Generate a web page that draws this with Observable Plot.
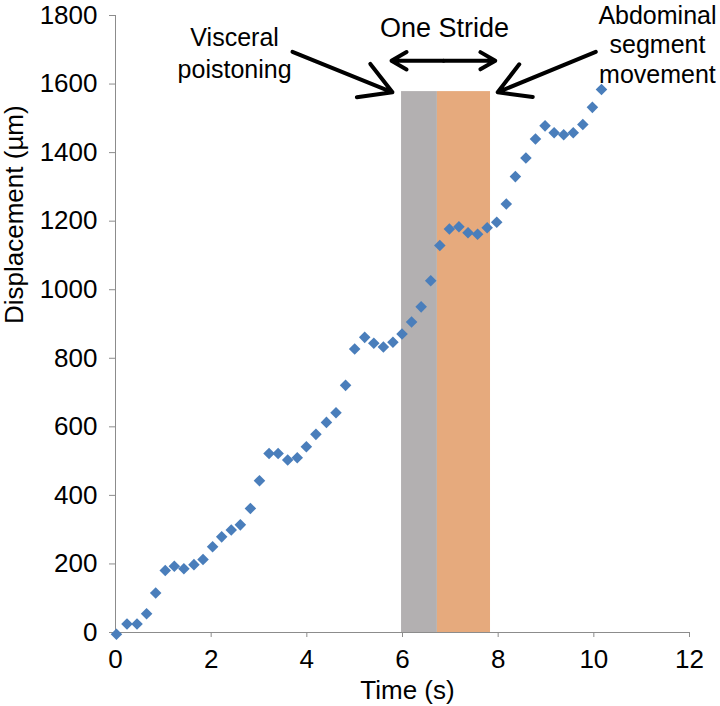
<!DOCTYPE html>
<html>
<head>
<meta charset="utf-8">
<script src="https://cdn.jsdelivr.net/npm/d3@7"></script>
<script src="https://cdn.jsdelivr.net/npm/@observablehq/plot@0.6"></script>
<style>
  html, body { margin: 0; padding: 0; background: #fff; }
  svg { font-family: "Liberation Sans", Arial, sans-serif; }
</style>
</head>
<body>
<div id="chart"></div>
<script>
// Data
const time = [0.02,0.24,0.45,0.65,0.84,1.04,1.23,1.43,1.64,1.83,2.03,2.22,2.42,2.61,2.82,3.01,3.21,3.40,3.60,3.80,3.99,4.19,4.41,4.61,4.81,5.00,5.21,5.40,5.60,5.80,5.99,6.19,6.39,6.59,6.78,6.98,7.18,7.37,7.57,7.77,7.97,8.17,8.36,8.58,8.78,8.98,9.17,9.37,9.57,9.77,9.97,10.16];
const displacement = [-5,25,25,55,115,181,193,186,198,213,250,279,299,314,362,443,522,522,503,510,542,578,613,641,721,827,861,844,833,847,871,906,950,1026,1129,1177,1184,1166,1162,1181,1197,1250,1330,1384,1440,1478,1458,1452,1458,1482,1532,1584];

// Phase bands (one stride)
const bandNames = ["Visceral positioning", "Abdominal segment movement"];
const bandStart = [5.98, 6.73];
const bandEnd = [6.73, 7.84];
const bandTop = [1578, 1578];
const bandColors = ["#b3b0b1", "#e6aa7d"];

// Tick labels
const xTicks = [0, 2, 4, 6, 8, 10, 12];
const yTicks = [0, 200, 400, 600, 800, 1000, 1200, 1400, 1600, 1800];

// Annotations (data units)
const titleLabel = ["One Stride"];
const titleX = [6.88];
const titleY = [1737];
const annLabels = ["Visceral", "poistoning", "Abdominal", "segment", "movement"];
const annX = [2.49, 2.49, 11.33, 11.33, 11.33];
const annY = [1711, 1618, 1776, 1692, 1604];

const arrowX1 = [3.70, 10.04, 6.86, 6.86];
const arrowY1 = [1694, 1694, 1668, 1668];
const arrowX2 = [5.79, 7.99, 5.77, 7.94];
const arrowY2 = [1576, 1576, 1668, 1668];

const points = time.map((t, i) => ({t, v: displacement[i]}));
const bands = bandNames.map((name, i) => ({name, x1: bandStart[i], x2: bandEnd[i], top: bandTop[i], color: bandColors[i]}));
const titles = titleLabel.map((label, i) => ({label, x: titleX[i], y: titleY[i]}));
const anns = annLabels.map((label, i) => ({label, x: annX[i], y: annY[i]}));
const arrows = arrowX1.map((x1, i) => ({x1, y1: arrowY1[i], x2: arrowX2[i], y2: arrowY2[i]}));

const chart = Plot.plot({
  width: 720,
  height: 706,
  marginLeft: 115,
  marginRight: 31,
  marginTop: 15,
  marginBottom: 74,
  style: {fontFamily: "'Liberation Sans', Arial, sans-serif", background: "#fff", color: "#000"},
  x: {domain: [0, 12]},
  y: {domain: [0, 1800]},
  marks: [
    Plot.rectY(bands, {x1: "x1", x2: "x2", y1: 0, y2: "top", fill: "color"}),
    Plot.ruleX([0], {stroke: "#8c8c8c", strokeWidth: 1}),
    Plot.ruleY([0], {stroke: "#8c8c8c", strokeWidth: 1}),
    Plot.axisX({ticks: xTicks, tickSize: 5, tickPadding: 12, fontSize: 26, stroke: "#8c8c8c", fill: "#000", label: null, tickFormat: d => String(d)}),
    Plot.axisY({ticks: yTicks, tickSize: 6, tickPadding: 12, fontSize: 26, stroke: "#8c8c8c", fill: "#000", label: null, tickFormat: d => String(d)}),
    Plot.dot(points, {x: "t", y: "v", symbol: "diamond2", r: 5.2, fill: "#4a7ebb", stroke: "none"}),
    Plot.arrow(arrows, {x1: "x1", y1: "y1", x2: "x2", y2: "y2", stroke: "#000", strokeWidth: 4, headLength: 18, headAngle: 60}),
    Plot.text(titles, {x: "x", y: "y", text: "label", fontSize: 27, lineAnchor: "bottom", textAnchor: "middle", fill: "#000"}),
    Plot.text(anns, {x: "x", y: "y", text: "label", fontSize: 25, lineAnchor: "bottom", textAnchor: "middle", fill: "#000"}),
    Plot.text(["Time (s)"], {frameAnchor: "bottom", dx: 5, dy: 48, lineAnchor: "top", fontSize: 26, fill: "#000"}),
    Plot.text(["Displacement (µm)"], {frameAnchor: "left", dx: -111, rotate: -90, lineAnchor: "top", fontSize: 26, fill: "#000"})
  ]
});
document.getElementById("chart").appendChild(chart);
</script>
</body>
</html>
